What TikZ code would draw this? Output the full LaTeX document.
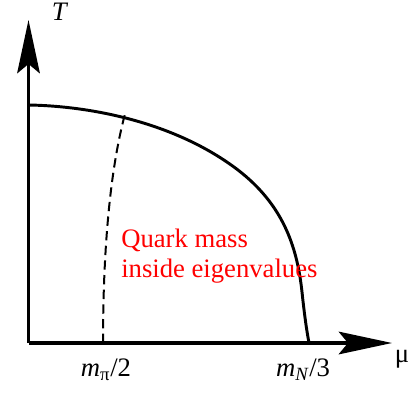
\documentclass[tikz,border=0pt]{standalone}
\usepackage{fontspec}
\setmainfont{Liberation Serif}
\newfontfamily\diagfont{Liberation Serif}
\usetikzlibrary{arrows.meta,positioning}
\definecolor{phasered}{HTML}{FF0000}

\begin{document}
\begin{tikzpicture}[x=0.75pt,y=-0.75pt]
    \tikzstyle{axis}=[line width=2.3pt,-{Stealth[length=40pt,width=17pt,inset=7pt]}]
    \tikzstyle{border}=[line width=2.2pt]
    \tikzstyle{lbl}=[font=\diagfont\fontsize{20}{22.5}\selectfont,inner sep=0pt]
    \useasboundingbox (0,0) rectangle (414,393);
    \coordinate (o) at (28.5,343);
    \coordinate (ttip) at (28.5,20);
    \coordinate (mutip) at (392,343);
    % axes
    \draw[axis] (o) -- (ttip);
    \draw[axis] (o) -- (mutip);
    % transition line and the dashed one
    \draw[border] (28.5,105) .. controls (90,106) and (175,122) .. (238,170)
        .. controls (282,204) and (297,245) .. (302,292)
        .. controls (305,320) and (307,332) .. (309,343);
    \draw[line width=1.5pt,dash pattern=on 7pt off 4pt] (103,343) .. controls (103,250) and (110,170) .. (125,114);
    % labels
    \node[lbl,anchor=base] (t) at (60,20) {\textit{T}};
    \node[lbl,anchor=base] (mu) at (402,362) {μ};
    \node[lbl,anchor=base] (mpi) at (106,376) {\textit{m}\textsubscript{π}/2};
    \node[lbl,anchor=base] (mn) at (303,376) {\textit{m}\textsubscript{\textit{N}}/3};
    \node[lbl,anchor=base west,text=phasered] (q) at (121,247) {Quark mass};
    \node[lbl,anchor=base west,text=phasered] (q2) at (121,277) {inside eigenvalues};
\end{tikzpicture}
\end{document}
